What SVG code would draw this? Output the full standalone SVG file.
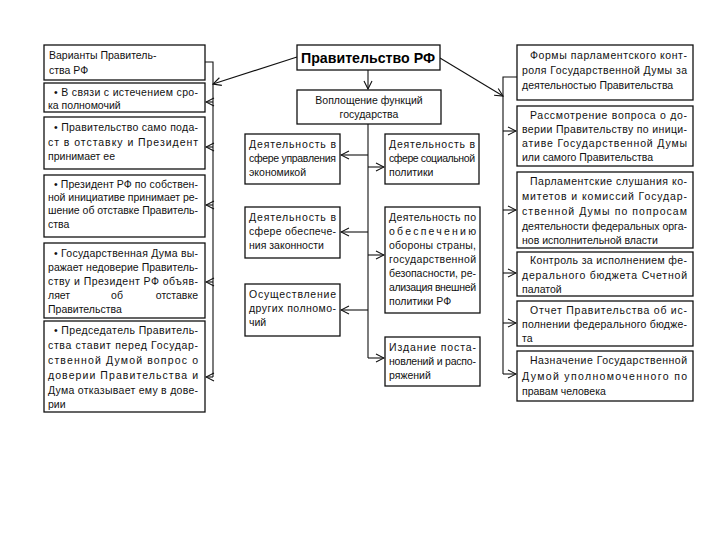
<svg xmlns="http://www.w3.org/2000/svg" width="720" height="540" viewBox="0 0 720 540">
<style>
.b{fill:#fff;stroke:#111;stroke-width:1.3}
.t{font-family:"Liberation Sans",Arial,sans-serif;font-size:10.5px;fill:#111}
.h{font-family:"Liberation Sans",Arial,sans-serif;font-size:14px;font-weight:bold;fill:#000}
.c{fill:none;stroke:#111;stroke-width:1.1}
</style>
<defs>
<marker id="a" markerWidth="10" markerHeight="10" refX="9" refY="5" orient="auto" markerUnits="userSpaceOnUse">
<path d="M1,1 L9,5 L1,9" fill="none" stroke="#111" stroke-width="1.1"/>
</marker>
</defs>
<rect width="720" height="540" fill="#fff"/>
<g id="connectors">
<path class="c" d="M368,70 V89" marker-end="url(#a)"/>
<path class="c" d="M368,124 V358"/>
<path class="c" d="M368,155 H341" marker-end="url(#a)"/>
<path class="c" d="M368,232 H341" marker-end="url(#a)"/>
<path class="c" d="M368,310 H341" marker-end="url(#a)"/>
<path class="c" d="M368,167 H384" marker-end="url(#a)"/>
<path class="c" d="M368,255 H384" marker-end="url(#a)"/>
<path class="c" d="M368,358 H384" marker-end="url(#a)"/>
<path class="c" d="M297,57 L213,84" marker-end="url(#a)"/>
<path class="c" d="M205,62 H213 V377"/>
<path class="c" d="M213,102 H206" marker-end="url(#a)"/>
<path class="c" d="M213,147 H206" marker-end="url(#a)"/>
<path class="c" d="M213,205 H206" marker-end="url(#a)"/>
<path class="c" d="M213,282 H206" marker-end="url(#a)"/>
<path class="c" d="M213,377 H206" marker-end="url(#a)"/>
<path class="c" d="M440,58 L503,96" marker-end="url(#a)"/>
<path class="c" d="M517,77 H503 V374"/>
<path class="c" d="M503,131 H516" marker-end="url(#a)"/>
<path class="c" d="M503,210 H516" marker-end="url(#a)"/>
<path class="c" d="M503,273 H516" marker-end="url(#a)"/>
<path class="c" d="M503,323 H516" marker-end="url(#a)"/>
<path class="c" d="M503,374 H516" marker-end="url(#a)"/>
</g>
<g id="gov">
<rect class="b" x="297" y="45" width="143" height="25"/>
<text class="h" x="301" y="63" textLength="134" lengthAdjust="spacingAndGlyphs">Правительство РФ</text>
</g>
<g id="func">
<rect class="b" x="297" y="90" width="144" height="34"/>
<text class="t" x="369" y="104" text-anchor="middle">Воплощение функций</text>
<text class="t" x="369" y="118" text-anchor="middle">государства</text>
</g>
<g id="econ">
<rect class="b" x="245" y="134" width="95" height="50"/>
<text class="t" x="249" y="148" textLength="87">Деятельность в</text>
<text class="t" x="249" y="162" textLength="87">сфере управления</text>
<text class="t" x="249" y="176">экономикой</text>
</g>
<g id="social">
<rect class="b" x="385" y="134" width="94" height="50"/>
<text class="t" x="389" y="148" textLength="86">Деятельность в</text>
<text class="t" x="389" y="162" textLength="86">сфере социальной</text>
<text class="t" x="389" y="176">политики</text>
</g>
<g id="law">
<rect class="b" x="245" y="207" width="95" height="51"/>
<text class="t" x="249" y="221" textLength="87">Деятельность в</text>
<text class="t" x="249" y="235" textLength="87">сфере обеспече-</text>
<text class="t" x="249" y="249">ния законности</text>
</g>
<g id="defense">
<rect class="b" x="385" y="207" width="95" height="106"/>
<text class="t" x="389" y="221" textLength="87">Деятельность по</text>
<text class="t" x="389" y="235" textLength="87">обеспечению</text>
<text class="t" x="389" y="249" textLength="87">обороны страны,</text>
<text class="t" x="389" y="263" textLength="87">государственной</text>
<text class="t" x="389" y="277" textLength="87">безопасности, ре-</text>
<text class="t" x="389" y="291" textLength="87">ализация внешней</text>
<text class="t" x="389" y="305">политики РФ</text>
</g>
<g id="other">
<rect class="b" x="245" y="284" width="95" height="52"/>
<text class="t" x="249" y="298" textLength="87">Осуществление</text>
<text class="t" x="249" y="312" textLength="87">других полномо-</text>
<text class="t" x="249" y="326">чий</text>
</g>
<g id="decrees">
<rect class="b" x="385" y="337" width="95" height="49"/>
<text class="t" x="389" y="351" textLength="87">Издание поста-</text>
<text class="t" x="389" y="365" textLength="87">новлений и распо-</text>
<text class="t" x="389" y="379">ряжений</text>
</g>
<g id="l1">
<rect class="b" x="44" y="45" width="161" height="35"/>
<text class="t" x="49" y="59">Варианты Правитель-</text>
<text class="t" x="49" y="74">ства РФ</text>
</g>
<g id="l2">
<rect class="b" x="44" y="83" width="161" height="29"/>
<text class="t" x="54" y="96" textLength="144">• В связи с истечением сро-</text>
<text class="t" x="48" y="109">ка полномочий</text>
</g>
<g id="l3">
<rect class="b" x="44" y="117" width="161" height="52"/>
<text class="t" x="54" y="131" textLength="144">• Правительство само пода-</text>
<text class="t" x="48" y="146" textLength="150">ст в отставку и Президент</text>
<text class="t" x="48" y="160">принимает ее</text>
</g>
<g id="l4">
<rect class="b" x="44" y="175" width="161" height="62"/>
<text class="t" x="54" y="188" textLength="144">• Президент РФ по собствен-</text>
<text class="t" x="48" y="201" textLength="150">ной инициативе принимает ре-</text>
<text class="t" x="48" y="214" textLength="150">шение об отставке Правитель-</text>
<text class="t" x="48" y="228">ства</text>
</g>
<g id="l5">
<rect class="b" x="44" y="243" width="161" height="75"/>
<text class="t" x="54" y="257" textLength="144">• Государственная Дума вы-</text>
<text class="t" x="48" y="271" textLength="150">ражает недоверие Правитель-</text>
<text class="t" x="48" y="285" textLength="150">ству и Президент РФ объяв-</text>
<text class="t" x="48" y="299">ляет</text>
<text class="t" x="117" y="299" text-anchor="middle">об</text>
<text class="t" x="198" y="299" text-anchor="end">отставке</text>
<text class="t" x="48" y="313">Правительства</text>
</g>
<g id="l6">
<rect class="b" x="44" y="321" width="161" height="91"/>
<text class="t" x="54" y="334" textLength="144">• Председатель Правитель-</text>
<text class="t" x="48" y="349" textLength="150">ства ставит перед Государ-</text>
<text class="t" x="48" y="364" textLength="150">ственной Думой вопрос о</text>
<text class="t" x="48" y="379" textLength="150">доверии Правительства и</text>
<text class="t" x="48" y="394" textLength="150">Дума отказывает ему в дове-</text>
<text class="t" x="48" y="408">рии</text>
</g>
<g id="r1">
<rect class="b" x="517" y="45" width="176" height="55"/>
<text class="t" x="530" y="59" textLength="157">Формы парламентского конт-</text>
<text class="t" x="522" y="74" textLength="165">роля Государственной Думы за</text>
<text class="t" x="522" y="89">деятельностью Правительства</text>
</g>
<g id="r2">
<rect class="b" x="517" y="106" width="176" height="60"/>
<text class="t" x="530" y="119" textLength="157">Рассмотрение вопроса о до-</text>
<text class="t" x="522" y="133" textLength="165">верии Правительству по иници-</text>
<text class="t" x="522" y="147" textLength="165">ативе Государственной Думы</text>
<text class="t" x="522" y="161">или самого Правительства</text>
</g>
<g id="r3">
<rect class="b" x="517" y="172" width="176" height="76"/>
<text class="t" x="530" y="185" textLength="157">Парламентские слушания ко-</text>
<text class="t" x="522" y="200" textLength="165">митетов и комиссий Государ-</text>
<text class="t" x="522" y="215" textLength="165">ственной Думы по попросам</text>
<text class="t" x="522" y="230" textLength="165">деятельности федеральных орга-</text>
<text class="t" x="522" y="244">нов исполнительной власти</text>
</g>
<g id="r4">
<rect class="b" x="517" y="252" width="176" height="44"/>
<text class="t" x="530" y="264" textLength="157">Контроль за исполнением фе-</text>
<text class="t" x="522" y="279" textLength="165">дерального бюджета Счетной</text>
<text class="t" x="522" y="293">палатой</text>
</g>
<g id="r5">
<rect class="b" x="517" y="301" width="176" height="45"/>
<text class="t" x="530" y="314" textLength="157">Отчет Правительства об ис-</text>
<text class="t" x="522" y="328" textLength="165">полнении федерального бюдже-</text>
<text class="t" x="522" y="342">та</text>
</g>
<g id="r6">
<rect class="b" x="517" y="351" width="176" height="50"/>
<text class="t" x="530" y="364" textLength="157">Назначение Государственной</text>
<text class="t" x="522" y="380" textLength="165">Думой уполномоченного по</text>
<text class="t" x="522" y="395">правам человека</text>
</g>
</svg>
